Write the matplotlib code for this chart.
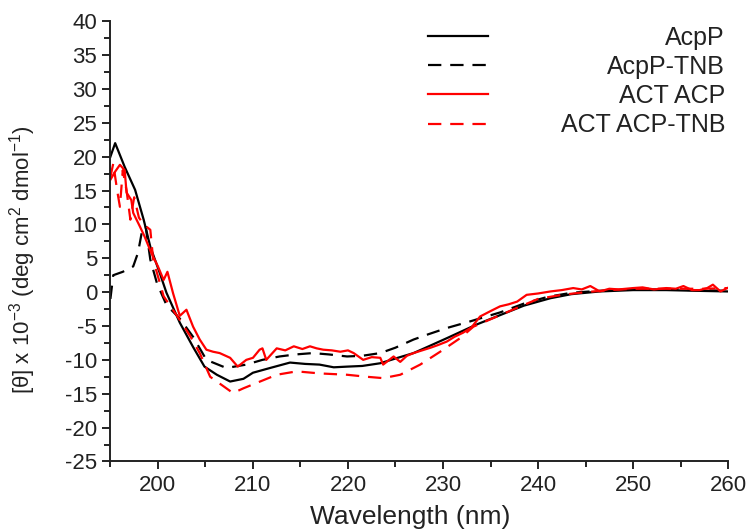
import numpy as np
import matplotlib.pyplot as plt
from matplotlib.ticker import MultipleLocator

plt.rcParams['font.family'] = ['Liberation Sans', 'DejaVu Sans']
plt.rcParams['mathtext.fontset'] = 'custom'
plt.rcParams['mathtext.rm'] = 'Liberation Sans'
plt.rcParams['axes.unicode_minus'] = False

# CD spectra (wavelength in nm, [theta] x 10^-3)
acpp_x = [195, 195.5, 196.5, 197.6, 198.5, 199.2, 200.2, 200.9, 202.3, 203.7,
          204.9, 206.2, 207.6, 209, 210, 211.8, 213.9, 215.5, 217, 218.5,
          219.9, 221.5, 223.4, 225, 226.9, 228.5, 230.4, 233.5, 236, 238.5,
          241.3, 243.5, 246.5, 250, 253.5, 256.5, 260]
acpp_y = [20, 22, 18.5, 15.1, 10.7, 6.7, 2.8, -0.1, -4.5, -8.1,
          -11, -12.2, -13.2, -12.8, -11.9, -11.2, -10.4, -10.6, -10.7, -11.1,
          -11, -10.9, -10.5, -9.8, -9, -8, -6.8, -4.8, -3.4, -2.0,
          -0.9, -0.3, 0.1, 0.3, 0.3, 0.2, 0.1]

acpp_tnb_x = [195, 195.3, 196.3, 197.4, 197.9, 198.3, 198.7, 199.2, 199.9, 200.9,
              202.3, 203.7, 205.1, 207.2, 209.3, 211, 212.8, 214.5, 216.3, 218,
              219.9, 221.5, 223.4, 225, 226.9, 228.5, 230.4, 232.9, 236, 238.5,
              241, 243.5, 246.5, 250, 253, 256.5, 260]
acpp_tnb_y = [-1, 2.5, 3.0, 3.8, 5.8, 8.8, 9.8, 4.8, 1.3, -1.9,
              -3.9, -6.6, -10, -11.2, -10.7, -10, -9.5, -9.2, -9.0, -9.2,
              -9.5, -9.4, -9, -8.2, -7, -6.2, -5.3, -4.3, -3.0, -1.7,
              -0.7, -0.1, 0.2, 0.4, 0.4, 0.3, 0.2]

act_x = [195, 195.5, 196, 196.5, 196.7, 197.2, 197.4, 198.1, 198.6, 199.3,
         200, 200.6, 201, 201.6, 202.3, 203, 203.7, 204.4, 205.1, 205.8,
         206.5, 207.6, 208.4, 209.3, 210, 210.7, 211, 211.4, 212.5, 213.4,
         214.3, 215.2, 216, 216.7, 217.4, 218.3, 219.2, 220, 220.6, 221.6,
         222.5, 223.4, 223.7, 224.8, 225.5, 226.2, 226.9, 227.8, 228.7, 229.5,
         230.4, 231.2, 232.1, 233, 233.9, 235, 236, 236.9, 237.8, 238.8,
         240, 241.3, 242.5, 243.7, 244.6, 245.5, 246.5, 247.5, 248.5, 250,
         251, 252.2, 253.5, 254.5, 255.3, 256.2, 257, 257.8, 258.4, 259.2, 259.9]
act_y = [16.6, 17.8, 18.8, 18, 14.7, 13.6, 11.7, 9.7, 8.2, 5.8,
         3.8, 1.8, 3.0, -0.2, -3.5, -2.6, -5.1, -7, -8.5, -8.8,
         -9.0, -9.7, -11, -10, -9.7, -8.5, -8.3, -10, -8.3, -8.6,
         -8.0, -8.4, -8.0, -8.3, -8.5, -8.6, -8.8, -8.6, -9.0, -10,
         -9.6, -9.7, -10.7, -9.5, -10.3, -9.4, -9, -8.6, -8.2, -7.8,
         -7.3, -6.6, -6.0, -5.2, -3.6, -2.8, -2.1, -1.8, -1.4, -0.4,
         -0.2, 0.1, 0.3, 0.6, 0.4, 0.9, 0.1, 0.5, 0.4, 0.6,
         0.7, 0.4, 0.6, 0.5, 0.9, 0.3, 0.3, 0.6, 1.1, 0.1, 0.6]

act_tnb_x = [195, 195.3, 195.7, 196, 196.3, 196.7, 197.1, 197.5, 198, 198.5,
             199.2, 199.5, 200.6, 202.3, 203.4, 204.4, 205.5, 206.9, 207.9, 209,
             210.4, 212.5, 214.6, 217, 219.9, 222, 223.7, 225.5, 227.6, 229.7,
             231.8, 233.2, 236, 238, 240, 242.5, 245, 247.5, 250, 252.5,
             255, 257.5, 260]
act_tnb_y = [17, 19, 15.1, 12.6, 18, 15, 10.7, 14, 11, 10,
             9.2, 4.8, -0.6, -4.1, -6.5, -9.0, -12.5, -13.9, -14.9, -14.2,
             -13.4, -12.2, -11.7, -12, -12.2, -12.5, -12.7, -12.2, -10.7, -8.8,
             -6.8, -5.1, -3.4, -2.2, -1.0, -0.4, 0, 0.3, 0.5, 0.5,
             0.5, 0.5, 0.6]

fig = plt.figure(figsize=(7.46, 5.31), dpi=100)
ax = fig.add_axes([0.148, 0.131, 0.828, 0.829])

dash = (0, (6, 4))
ax.plot(acpp_x, acpp_y, color='black', lw=1.6, label='AcpP')
ax.plot(acpp_tnb_x, acpp_tnb_y, color='black', lw=1.6, ls=dash, label='AcpP-TNB')
ax.plot(act_x, act_y, color='red', lw=1.6, label='ACT ACP')
ax.plot(act_tnb_x, act_tnb_y, color='red', lw=1.6, ls=dash, label='ACT ACP-TNB')

ax.set_xlim(195, 260)
ax.set_ylim(-25, 40)
ax.xaxis.set_major_locator(MultipleLocator(10))
ax.xaxis.set_minor_locator(MultipleLocator(5))
ax.yaxis.set_major_locator(MultipleLocator(5))
ax.yaxis.set_minor_locator(MultipleLocator(2.5))
ax.tick_params(which='major', direction='out', length=6, width=1.4, labelsize=16,
               color='#222222', labelcolor='#222222')
ax.tick_params(which='minor', direction='out', length=4, width=1.4, color='#222222')
for s in ['top', 'right']:
    ax.spines[s].set_visible(False)
for s in ['left', 'bottom']:
    ax.spines[s].set_linewidth(1.4)
    ax.spines[s].set_color('#222222')

ax.set_xlabel('Wavelength (nm)', fontsize=19, color='#222222')
ax.xaxis.set_label_coords(0.485, -0.100)
ax.set_ylabel('[θ] x 10$^{-3}$ (deg cm$^{2}$ dmol$^{-1}$)', fontsize=16, color='#222222')
ax.yaxis.set_label_coords(-0.118, 0.458)

leg = ax.legend(loc='upper right', bbox_to_anchor=(0.995, 0.99), frameon=False,
                fontsize=18, handlelength=2.4, labelspacing=0.21, handletextpad=2.9,
                borderpad=0.0, borderaxespad=0.0, labelcolor='#222222')
# right-align the legend texts against the longest label
fig.canvas.draw()
renderer = fig.canvas.get_renderer()
widths = [t.get_window_extent(renderer).width for t in leg.get_texts()]
for t, w in zip(leg.get_texts(), widths):
    t.set_position((max(widths) - w, 0))

fig.savefig('out.png', dpi=100)
